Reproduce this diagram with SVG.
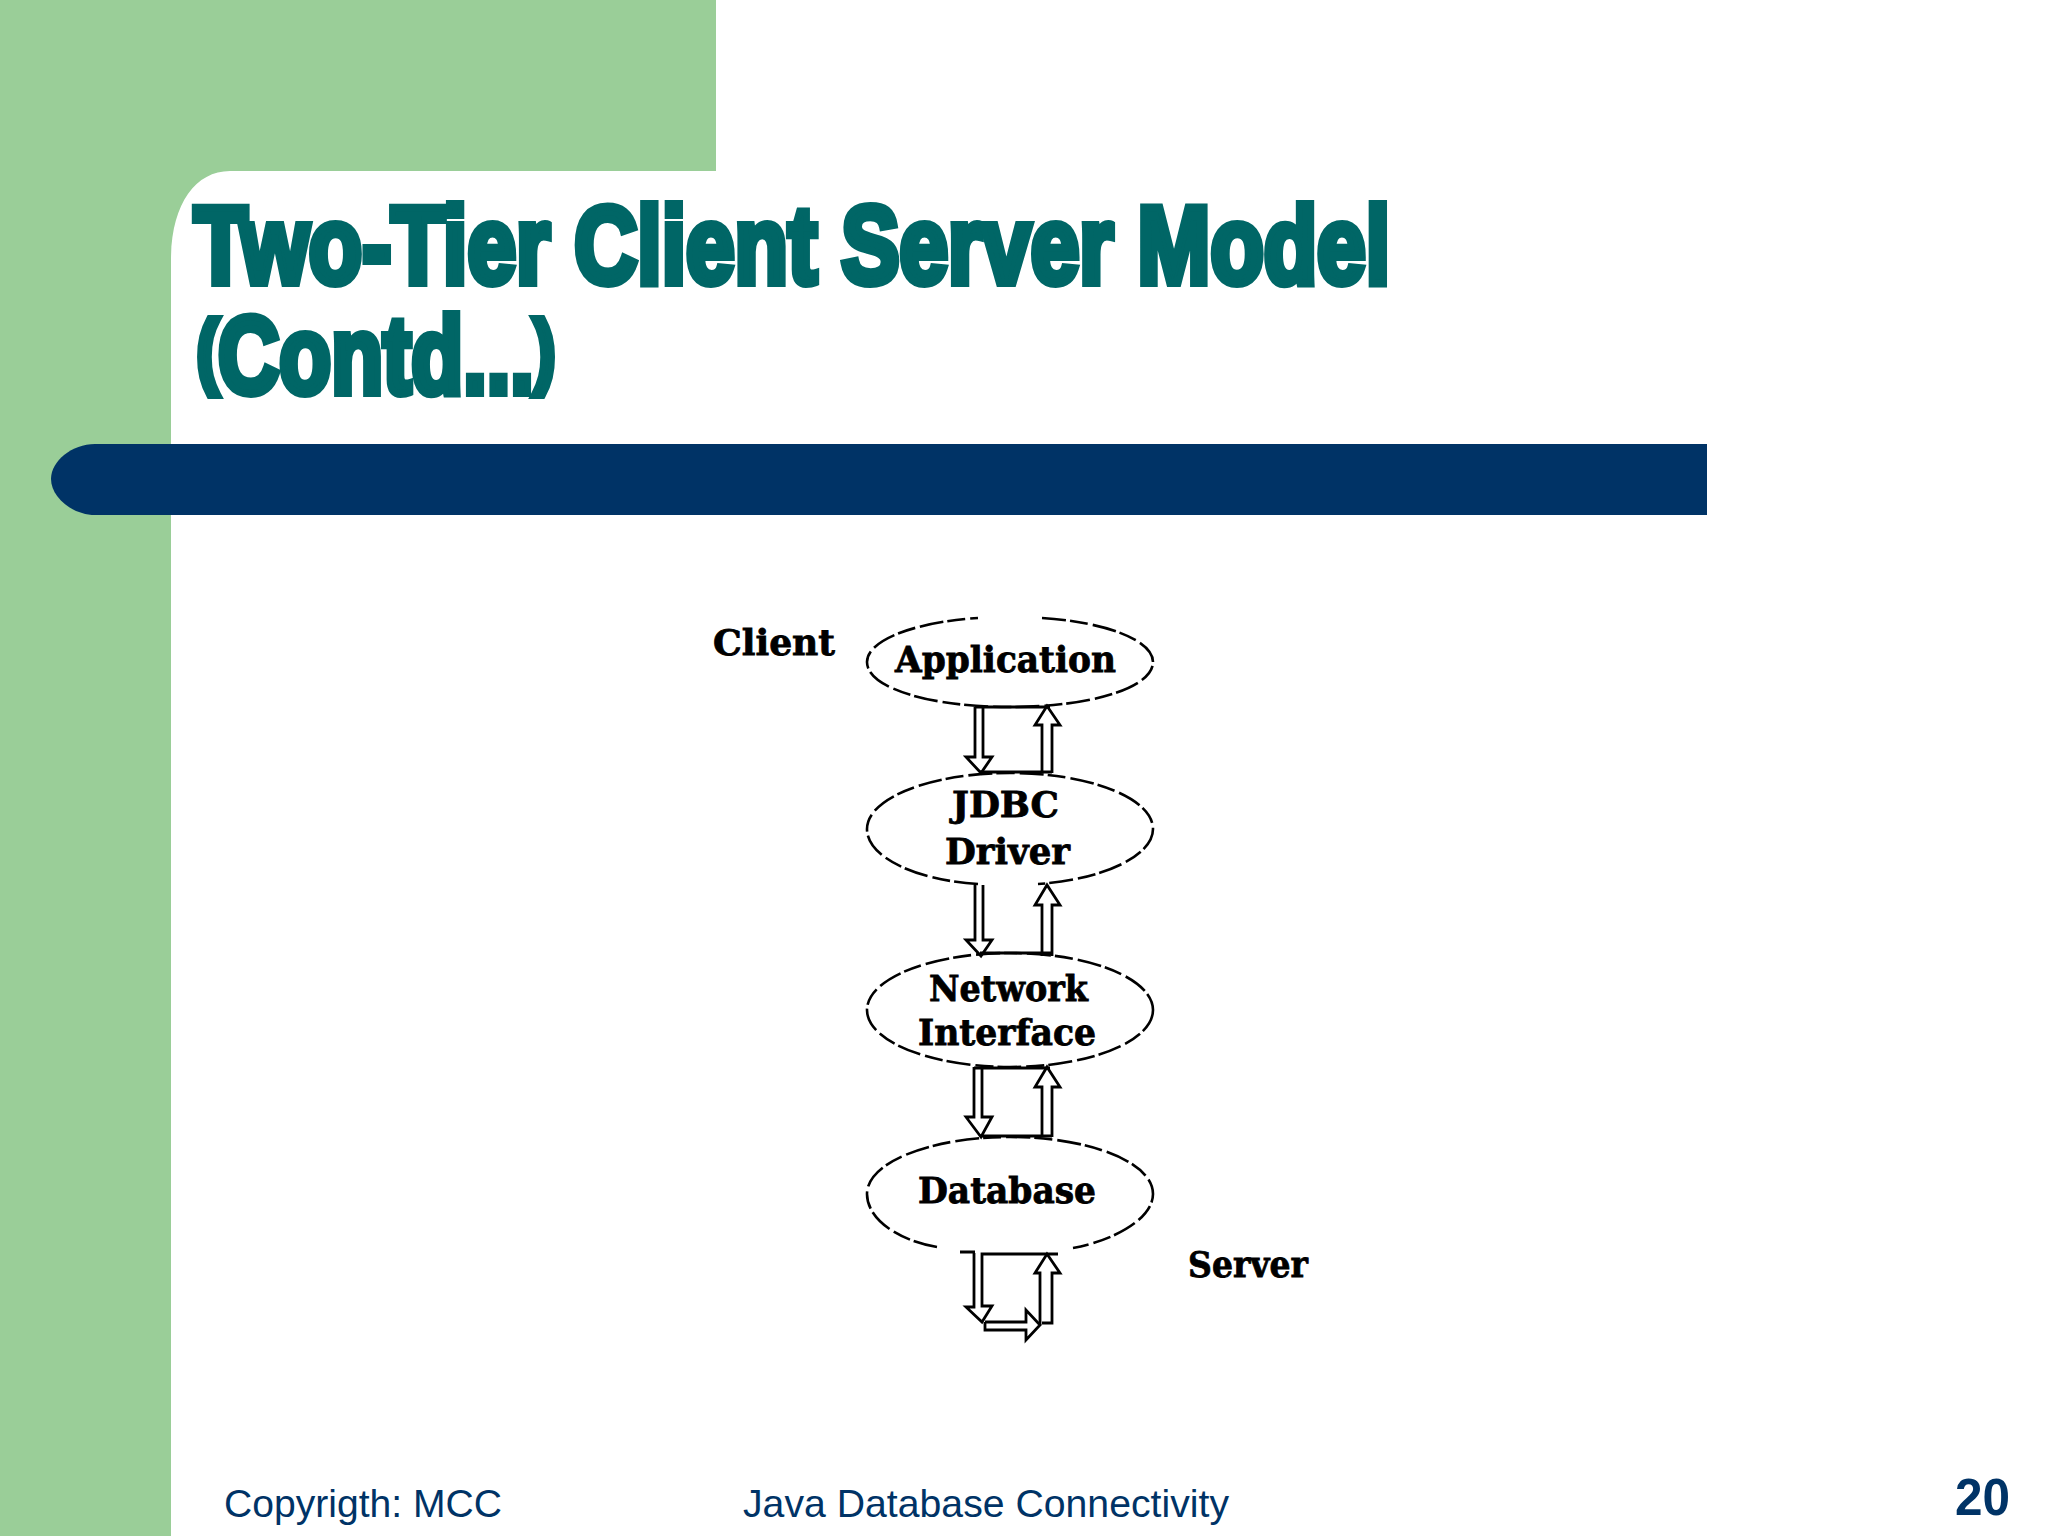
<svg xmlns="http://www.w3.org/2000/svg" width="2048" height="1536" viewBox="0 0 2048 1536">
<style>
.title{font-family:"Liberation Sans",Arial,sans-serif;font-weight:700;font-size:110px;fill:#006666;stroke:#006666;stroke-width:8px;stroke-linejoin:miter}
.paren{font-size:82px}
.foot{font-family:"Liberation Sans",Arial,sans-serif;font-size:39px;fill:#003366}
.num{font-family:"Liberation Sans",Arial,sans-serif;font-weight:700;font-size:52px;fill:#003366}
.lbl{font-family:"DejaVu Serif",serif;font-weight:700;font-size:35px;fill:#000;stroke:#000;stroke-width:.8px}
.oval{fill:none;stroke:#000;stroke-width:2.6;stroke-dasharray:24 4 18 5}
.arr{fill:none;stroke:#000;stroke-width:2.8;stroke-linejoin:miter}
</style>
<rect width="2048" height="1536" fill="#fff"/>
<g id="background">
<path d="M0 0H716V171H230C195 171 171 205 171 260V1536H0Z" fill="#9ace98"/>
<path d="M95 444H1707V515H95C72 515 51 497 51 479C51 461 72 444 95 444Z" fill="#003366"/>
</g>
<g id="title">
<text class="title" x="194" y="283" textLength="1196" lengthAdjust="spacingAndGlyphs">Two-Tier Client Server Model</text>
<text class="title" x="197" y="393" textLength="358" lengthAdjust="spacingAndGlyphs"><tspan class="paren" dy="-15">(</tspan><tspan dy="15">Contd...</tspan><tspan class="paren" dy="-15">)</tspan></text>
</g>
<g id="connectors">
<path class="arr" d="M975 707H1050M975 707V757H966L981 773L992 757H983V707"/>
<path class="arr" d="M1042 773V725H1035L1047 706L1060 725H1052V773M980 772H1052"/>
<path class="arr" d="M975 885V940H966L981 956L992 940H983V885"/>
<path class="arr" d="M1042 956V905H1035L1047 885L1060 905H1052V956M980 953H1052"/>
<path class="arr" d="M974 1067V1117H966L981 1137L992 1117H982V1067M974 1068H1050"/>
<path class="arr" d="M1042 1137V1087H1035L1047 1067L1060 1087H1052V1137M980 1136H1052"/>
<path class="arr" d="M974 1253V1307H966L982 1322L992 1306H982V1254H1058M960 1252H975"/>
<path class="arr" d="M1040 1325V1273H1035L1047 1254L1060 1273H1052V1323H1042"/>
<path class="arr" d="M985 1322H1026V1310L1040 1325L1026 1340V1330H985V1322"/>
</g>
<g id="node-client"><text class="lbl" x="713" y="655" textLength="122" lengthAdjust="spacingAndGlyphs">Client</text></g>
<g id="node-application">
<path class="oval" d="M1042 618C1105 622 1153 640 1153 662C1153 688 1090 707 1010 707C930 707 867 688 867 662C867 640 915 622 978 618"/>
<text class="lbl" x="895" y="672" textLength="221" lengthAdjust="spacingAndGlyphs">Application</text>
</g>
<g id="node-jdbc">
<path class="oval" d="M978 884C915 880 867 857 867 829C867 798 931 773 1010 773C1089 773 1153 798 1153 829C1153 857 1100 880 1038 884"/>
<text class="lbl" x="952" y="817" textLength="107" lengthAdjust="spacingAndGlyphs">JDBC</text>
<text class="lbl" x="945" y="864" textLength="125" lengthAdjust="spacingAndGlyphs">Driver</text>
</g>
<g id="node-network">
<ellipse class="oval" cx="1010" cy="1010" rx="143" ry="57"/>
<text class="lbl" x="929" y="1001" textLength="159" lengthAdjust="spacingAndGlyphs">Network</text>
<text class="lbl" x="918" y="1045" textLength="178" lengthAdjust="spacingAndGlyphs">Interface</text>
</g>
<g id="node-database">
<path class="oval" d="M937 1247C896 1240 867 1218 867 1194C867 1162 931 1137 1010 1137C1089 1137 1153 1162 1153 1194C1153 1218 1116 1240 1073 1248"/>
<text class="lbl" x="918" y="1203" textLength="178" lengthAdjust="spacingAndGlyphs">Database</text>
</g>
<g id="node-server"><text class="lbl" x="1188" y="1277" textLength="120" lengthAdjust="spacingAndGlyphs">Server</text></g>
<g id="footer">
<text class="foot" x="224" y="1517" textLength="278" lengthAdjust="spacingAndGlyphs">Copyrigth: MCC</text>
<text class="foot" x="743" y="1517" textLength="486" lengthAdjust="spacingAndGlyphs">Java Database Connectivity</text>
<text class="num" x="1955" y="1515" textLength="55" lengthAdjust="spacingAndGlyphs">20</text>
</g>
</svg>
